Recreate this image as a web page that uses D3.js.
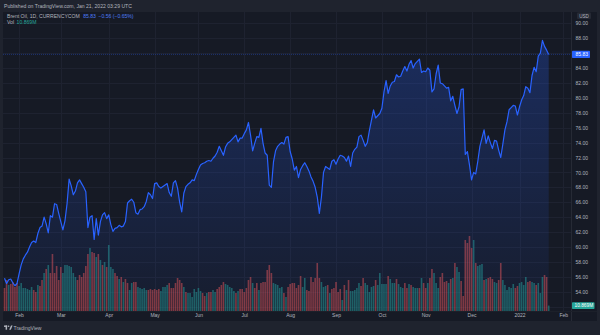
<!DOCTYPE html>
<html>
<head>
<meta charset="utf-8">
<script src="https://cdn.jsdelivr.net/npm/d3@7"></script>
<style>
  html, body { margin: 0; padding: 0; background: #1f232e; }
  svg { display: block; font-family: "Liberation Sans", Arial, sans-serif; }
</style>
</head>
<body>
<svg id="chart" width="600" height="335"></svg>
<script>
// Brent Oil, daily closes (USD), one bar per weekday from 21 Jan 2021
const closes = [
  55.8,55.1,55.6,55.7,55.2,54.8,55.1,56.4,57.6,58.4,
  58.9,59.3,60.0,60.6,60.8,60.6,61.8,62.6,62.8,64.0,
  63.1,61.9,64.2,64.0,65.8,65.7,64.5,63.4,62.3,63.5,
  65.8,69.1,68.2,67.0,67.5,68.6,69.0,68.5,68.0,67.4,
  62.6,64.0,64.2,61.0,63.8,61.6,63.4,64.3,64.6,63.8,
  64.3,63.0,62.1,62.5,62.6,62.9,62.7,62.8,63.4,65.9,
  66.2,66.4,66.0,64.6,64.4,65.0,65.1,65.4,66.1,67.3,
  67.0,66.5,68.5,68.6,68.1,67.9,68.1,68.3,68.5,67.3,
  66.8,68.6,68.9,67.9,66.0,64.7,67.2,68.1,68.4,68.6,
  69.0,68.9,69.7,70.4,71.0,71.2,71.3,71.5,71.6,71.5,
  71.9,72.2,72.7,73.5,72.9,72.3,73.4,73.9,74.1,74.4,
  74.7,75.0,74.1,74.6,74.6,75.2,75.7,76.7,75.0,72.9,
  73.9,74.8,74.7,75.9,73.9,72.6,72.3,68.3,68.0,71.4,
  72.9,73.5,73.8,74.0,73.8,74.7,74.8,72.8,71.8,70.3,
  70.8,69.3,70.4,70.9,71.3,70.8,70.2,69.4,68.8,68.0,
  66.7,64.5,66.7,70.0,70.8,70.6,70.4,71.5,71.7,71.1,
  71.8,72.3,72.2,72.0,71.5,72.2,70.8,72.6,73.1,73.4,
  74.8,75.0,74.3,73.5,74.0,75.6,77.0,78.4,77.3,77.6,
  77.9,78.6,80.8,82.3,80.6,81.6,82.1,82.2,83.1,82.8,
  82.9,83.6,84.2,83.6,84.5,85.0,84.0,84.6,84.9,85.2,
  83.4,83.6,83.5,84.0,83.7,80.8,81.2,83.2,84.4,82.0,
  81.9,81.6,81.3,81.4,79.6,80.2,79.0,77.9,78.8,81.1,
  81.2,72.4,72.8,71.0,69.0,70.0,69.8,71.5,73.5,74.6,
  75.7,73.9,74.9,74.0,73.2,74.3,74.2,73.0,72.0,73.8,
  75.7,76.8,78.4,78.7,79.0,78.9,77.7,78.8,79.7,80.3,
  81.5,81.3,80.7,83.0,84.1,83.5,85.6,86.0,87.7,86.9,
  86.4,85.83
];

// Daily volume, millions
const volumes = [
  46,62,52,54,58,48,56,50,56,46,
  46,44,42,48,42,38,52,50,62,76,
  84,92,76,114,76,90,62,88,76,92,
  92,90,88,76,68,62,72,68,76,90,
  114,126,118,116,108,114,102,92,98,88,
  132,88,84,76,70,64,68,58,64,56,
  42,56,58,58,48,46,44,46,42,42,
  44,42,44,42,44,40,48,48,52,56,
  46,46,56,66,62,56,48,38,36,36,
  28,44,38,46,40,36,30,36,38,38,
  42,38,44,48,52,58,54,52,48,46,
  40,36,40,44,44,38,46,62,68,56,
  46,56,42,56,58,58,82,92,76,56,
  54,52,46,48,36,28,48,54,56,56,
  46,52,70,48,66,42,40,68,58,66,
  96,66,58,48,50,52,36,44,46,58,
  38,44,22,52,42,62,40,40,42,46,
  56,50,66,56,52,38,48,50,62,52,
  76,54,54,54,70,64,56,56,64,54,
  48,46,56,46,54,52,48,46,46,46,
  66,56,46,56,66,84,76,56,46,68,
  76,58,60,56,64,66,96,88,78,60,
  30,142,136,150,126,142,96,90,92,94,
  62,64,66,68,64,58,56,62,96,62,
  52,42,48,46,54,46,50,56,58,52,
  68,58,60,58,56,52,56,36,68,72,
  68,10.869
];

// Bar direction for volume colouring: g = up bar, r = down bar
const volumeDirection = (
  "rrgrrrrggg" + "ggggrrgrrg" + "rgrrrrrrgg" + "gggggrrrrr" + "rgrrgrgrgr" +
  "gggrrgrgrr" + "ggrrgggggr" + "rrrrrggggr" + "rrrrrrgrgg" + "gggggrrgrr" +
  "ggrrrrgggg" + "grgrrrrrrg" + "rrgrrrrrrg" + "ggggrgrrrr" + "rrrggrrrrr" +
  "rrgggrgrrr" + "rrgrgrgggg" + "grrgggggrg" + "ggggrgggrg" + "ggrrgrgggr" +
  "grrgrrgggr" + "rrrgrgrggr" + "rrrrrgrggg" + "rgrrrggrrg" + "gggggrrggg" +
  "grrggrgggr" + "rg"
).split("");

// Price-scale labels (86 sits under the last-price marker)
const priceTicks = [54,56,58,60,62,64,66,68,70,72,74,76,78,80,82,84,88,90];
const priceGrid  = [52,54,56,58,60,62,64,66,68,70,72,74,76,78,80,82,84,86,88,90];
const monthNames = ["Jan","Feb","Mar","Apr","May","Jun","Jul","Aug","Sep","Oct","Nov","Dec"];

const lastClose = 85.83;
const lastChange = "−0.56 (−0.65%)";
const lastVolume = "10.869M";

// Weekday calendar for the bars (plus the run-out to early Feb 2022)
const dates = [];
{
  const d = new Date(2021, 0, 21);
  while (dates.length < 269) {
    const wd = d.getDay();
    if (wd !== 0 && wd !== 6) dates.push(new Date(d));
    d.setDate(d.getDate() + 1);
  }
}
const monthStarts = [];
for (let i = 1; i < dates.length; i++) {
  if (dates[i].getMonth() !== dates[i - 1].getMonth()) monthStarts.push(i);
}

const BG = "#161a25", FRAME = "#1f232e", GRID = "#1e2230";
const TEXT = "#b2b5be", BLUE = "#2962ff";
const UP = "rgba(38,166,154,0.5)", DOWN = "rgba(239,83,80,0.5)";
const AXIS_FS = 5.0;

const plot = { left: 3, right: 571, top: 12, bottom: 311 };
const svg = d3.select("#chart");

const x = d3.scaleLinear().domain([0, 268]).range([4.5, 563.3]);
const y = d3.scaleLinear().domain([54, 90]).range([291.7, 23.3]);
const yVol = d3.scaleLinear().domain([0, 160]).range([plot.bottom, plot.bottom - 80]);

// frame and panes
svg.append("rect").attr("width", 600).attr("height", 335).attr("fill", FRAME);
svg.append("rect").attr("x", 3).attr("y", 12).attr("width", 594).attr("height", 309).attr("fill", BG);

const defs = svg.append("defs");
defs.append("clipPath").attr("id", "plotClip").append("rect")
  .attr("x", plot.left).attr("y", plot.top)
  .attr("width", plot.right - plot.left).attr("height", plot.bottom - plot.top);
const grad = defs.append("linearGradient").attr("id", "areaFill")
  .attr("gradientUnits", "userSpaceOnUse").attr("x1", 0).attr("x2", 0)
  .attr("y1", 40).attr("y2", plot.bottom);
grad.append("stop").attr("offset", 0).attr("stop-color", BLUE).attr("stop-opacity", 0.26);
grad.append("stop").attr("offset", 1).attr("stop-color", BLUE).attr("stop-opacity", 0.04);

// grid
const grid = svg.append("g").attr("clip-path", "url(#plotClip)");
grid.selectAll("line.h").data(priceGrid).join("line")
  .attr("x1", plot.left).attr("x2", plot.right)
  .attr("y1", d => Math.round(y(d)) + 0.5).attr("y2", d => Math.round(y(d)) + 0.5)
  .attr("stroke", GRID).attr("stroke-width", 1);
grid.selectAll("line.v").data(monthStarts).join("line")
  .attr("x1", d => Math.round(x(d)) + 0.5).attr("x2", d => Math.round(x(d)) + 0.5)
  .attr("y1", plot.top).attr("y2", plot.bottom)
  .attr("stroke", GRID).attr("stroke-width", 1);

const chartG = svg.append("g").attr("clip-path", "url(#plotClip)");

// volume
chartG.selectAll("rect.vol").data(volumes).join("rect")
  .attr("x", (d, i) => x(i) - 0.8)
  .attr("width", 1.6)
  .attr("y", d => yVol(d))
  .attr("height", d => plot.bottom - yVol(d))
  .attr("fill", (d, i) => volumeDirection[i] === "g" ? UP : DOWN);

// area + line
const area = d3.area().x((d, i) => x(i)).y0(plot.bottom).y1(d => y(d));
const line = d3.line().x((d, i) => x(i)).y(d => y(d));
chartG.append("path").datum(closes).attr("d", area).attr("fill", "url(#areaFill)");
chartG.append("path").datum(closes).attr("d", line)
  .attr("fill", "none").attr("stroke", BLUE).attr("stroke-width", 1.2)
  .attr("stroke-linejoin", "round");

// last price line
chartG.append("line")
  .attr("x1", plot.left).attr("x2", plot.right)
  .attr("y1", y(lastClose)).attr("y2", y(lastClose))
  .attr("stroke", BLUE).attr("stroke-opacity", 0.45)
  .attr("stroke-width", 0.8).attr("stroke-dasharray", "1,1");

// separators
svg.append("line").attr("x1", plot.right + 0.5).attr("x2", plot.right + 0.5)
  .attr("y1", 12).attr("y2", 321).attr("stroke", "#262a35");
svg.append("line").attr("x1", 3).attr("x2", 597)
  .attr("y1", plot.bottom + 0.5).attr("y2", plot.bottom + 0.5).attr("stroke", "#1c202a");

// price axis
const yAxis = d3.axisRight(y).tickValues(priceTicks).tickFormat(d3.format(".2f"))
  .tickSize(0).tickPadding(4.5);
const yAxG = svg.append("g").attr("transform", `translate(${plot.right},0)`).call(yAxis);
yAxG.select(".domain").remove();
yAxG.selectAll("text").attr("fill", TEXT).attr("font-size", AXIS_FS).attr("font-family", "Liberation Sans, Arial, sans-serif");

// time axis
const xAxis = d3.axisBottom(x).tickValues(monthStarts)
  .tickFormat(i => dates[i].getMonth() === 0 ? String(dates[i].getFullYear()) : monthNames[dates[i].getMonth()])
  .tickSize(0).tickPadding(2.8);
const xAxG = svg.append("g").attr("transform", `translate(0,${plot.bottom})`).call(xAxis);
xAxG.select(".domain").remove();
xAxG.selectAll("text").attr("fill", TEXT).attr("font-size", AXIS_FS).attr("font-family", "Liberation Sans, Arial, sans-serif");

// currency tag
svg.append("rect").attr("x", 577).attr("y", 12.5).attr("width", 14).attr("height", 6.5)
  .attr("rx", 1).attr("fill", "#262a35");
svg.append("text").attr("x", 584).attr("y", 17.5).attr("text-anchor", "middle")
  .attr("fill", TEXT).attr("font-size", 4.6).text("USD");

// last price marker
svg.append("rect").attr("x", 572).attr("y", y(lastClose) - 3.7).attr("width", 18).attr("height", 7.4)
  .attr("rx", 0.8).attr("fill", BLUE);
svg.append("text").attr("x", 575.5).attr("y", y(lastClose) + 1.8)
  .attr("fill", "#ffffff").attr("font-size", AXIS_FS).text(lastClose.toFixed(2));

// last volume marker (kept inside the pane)
const volTagY = Math.min(yVol(volumes[volumes.length - 1]), plot.bottom - 5.3);
svg.append("rect").attr("x", 572).attr("y", volTagY - 3.4).attr("width", 22.5).attr("height", 6.8)
  .attr("rx", 0.8).attr("fill", "#26a69a");
svg.append("text").attr("x", 574.5).attr("y", volTagY + 1.7)
  .attr("fill", "#ffffff").attr("font-size", 4.8).text(lastVolume);

// header
svg.append("text").attr("x", 4).attr("y", 8)
  .attr("fill", TEXT).attr("font-size", 5.1)
  .text("Published on TradingView.com, Jan 21, 2022 03:29 UTC");

const legend = svg.append("text").attr("x", 7).attr("y", 17.5).attr("font-size", 5.1);
legend.append("tspan").attr("fill", TEXT).text("Brent Oil, 1D, CURRENCYCOM ");
legend.append("tspan").attr("fill", "#4d7cf6").attr("dx", 2).text(lastClose.toFixed(2));
legend.append("tspan").attr("fill", "#4d7cf6").attr("dx", 2.5).text(lastChange);

const volLegend = svg.append("text").attr("x", 7).attr("y", 24.3).attr("font-size", 5.1);
volLegend.append("tspan").attr("fill", TEXT).text("Vol");
volLegend.append("tspan").attr("fill", "#26a69a").attr("dx", 2.5).text(lastVolume);

// footer brand
const brand = svg.append("g").attr("transform", "translate(4,325.5)");
brand.append("rect").attr("x", 0).attr("y", 0).attr("width", 3.2).attr("height", 1.4).attr("fill", TEXT);
brand.append("rect").attr("x", 1.6).attr("y", 0).attr("width", 1.5).attr("height", 4.2).attr("fill", TEXT);
brand.append("circle").attr("cx", 4.6).attr("cy", 0.8).attr("r", 0.8).attr("fill", TEXT);
brand.append("path").attr("d", "M5.2,4.2 L7,0 L8.6,0 L6.8,4.2 Z").attr("fill", TEXT);
svg.append("text").attr("x", 13.5).attr("y", 330.2).attr("fill", TEXT)
  .attr("font-size", 5.1).text("TradingView");
</script>
</body>
</html>
